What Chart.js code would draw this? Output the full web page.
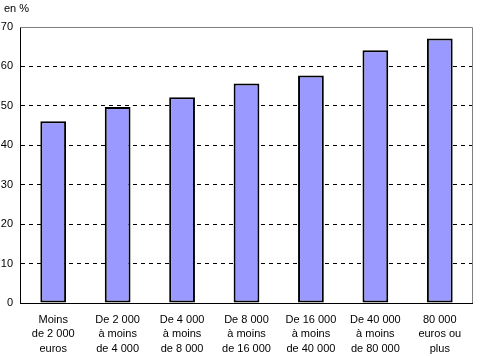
<!DOCTYPE html>
<html><head><meta charset="utf-8">
<script src="https://cdn.jsdelivr.net/npm/chart.js@4"></script>
<style>html,body{margin:0;padding:0;background:#fff}#wrap{width:480px;height:356px}</style>
</head><body><div id="wrap"><canvas id="c" width="480" height="356"></canvas></div>
<script>
const categories = [
  ["Moins", "de 2 000", "euros"],
  ["De 2 000", "à moins", "de 4 000"],
  ["De 4 000", "à moins", "de 8 000"],
  ["De 8 000", "à moins", "de 16 000"],
  ["De 16 000", "à moins", "de 40 000"],
  ["De 40 000", "à moins", "de 80 000"],
  ["80 000", "euros ou", "plus"]
];
const values = [46.1, 49.7, 52.2, 55.7, 57.7, 64.1, 67.1];
const unitLabel = "en %";
const yMin = 0, yMax = 70, yStep = 10;

const FONT = "'Liberation Sans', Arial, sans-serif";

const framePlugin = {
  id: 'frame',
  beforeDatasetsDraw(chart) {
    const a = chart.chartArea, ctx = chart.ctx;
    const t = Math.round(a.top) + 0.5, r = Math.round(a.right) + 0.5;
    const l = Math.round(a.left) - 0.5, b = Math.round(a.bottom);
    ctx.save();
    ctx.lineWidth = 1;
    ctx.strokeStyle = '#808080';
    ctx.beginPath();
    ctx.moveTo(l, t);
    ctx.lineTo(r, t);
    ctx.lineTo(r, b);
    ctx.stroke();
    ctx.strokeStyle = '#000';
    ctx.beginPath();
    ctx.moveTo(l, t);
    ctx.lineTo(l, b + 1);
    ctx.stroke();
    ctx.restore();
  },
  afterDraw(chart) {
    const ctx = chart.ctx;
    ctx.save();
    ctx.font = "11px " + FONT;
    ctx.fillStyle = '#000';
    ctx.textBaseline = 'alphabetic';
    ctx.textAlign = 'left';
    ctx.fillText(unitLabel, 4, 12);
    ctx.restore();
  }
};

new Chart(document.getElementById('c'), {
  type: 'bar',
  data: {
    labels: categories,
    datasets: [{
      data: values,
      backgroundColor: '#9999FF',
      borderColor: '#000000',
      borderWidth: 2,
      borderSkipped: false,
      barPercentage: 0.4,
      categoryPercentage: 1.0
    }]
  },
  options: {
    responsive: false,
    animation: false,
    devicePixelRatio: 1,
    layout: { padding: { top: 27, right: 8, left: 0, bottom: 0 } },
    plugins: { legend: { display: false }, tooltip: { enabled: false }, title: { display: false } },
    scales: {
      x: {
        grid: { display: false, drawTicks: false },
        border: { display: true, color: '#000', width: 1 },
        ticks: {
          color: '#000', font: { family: FONT, size: 11, lineHeight: 1.36 }, padding: 9,
          maxRotation: 0, autoSkip: false
        },
        afterFit(s) { s.height = 53; }
      },
      y: {
        min: yMin, max: yMax,
        grid: {
          drawTicks: false,
          color: (c) => (c.tick && (c.tick.value === yMin || c.tick.value === yMax)) ? 'rgba(0,0,0,0)' : '#000',
          lineWidth: 1
        },
        border: { display: false, dash: [4, 4] },
        ticks: {
          stepSize: yStep, color: '#000', font: { family: FONT, size: 11 }, padding: 8
        },
        afterFit(s) { s.width = 21; }
      }
    }
  },
  plugins: [framePlugin]
});
</script></body></html>
